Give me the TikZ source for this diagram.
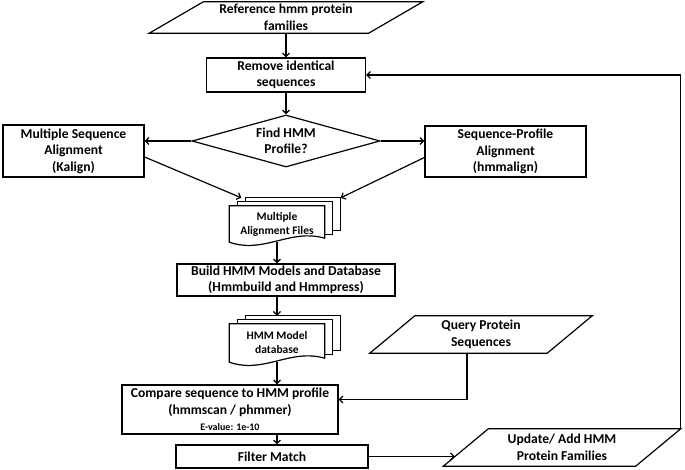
\documentclass[tikz,border=0pt]{standalone}
\usepackage{fontspec}
\setmainfont{Carlito}
\usetikzlibrary{shapes.geometric,arrows.meta,backgrounds}
\begin{document}
\begin{tikzpicture}[x=1pt,y=-1pt,
        >={Straight Barb[length=3.5pt,width=7pt]},
        every node/.style={font=\bfseries\fontsize{13.6}{16.5}\selectfont,align=center,inner sep=0pt},
        line/.style={line width=1.2pt},
        conn/.style={line,->},
        procbox/.style={draw,rectangle,line},
        iobox/.style={rectangle},
        docbox/.style={rectangle,minimum width=95pt,font=\bfseries\fontsize{11.5}{14}\selectfont},
        decision/.style={draw,diamond,aspect=3.6,line}]
        \useasboundingbox (0,0) rectangle (685,470);

        \node[iobox,minimum width=219pt,minimum height=31pt] (ref) at (286,17.5) {Reference hmm protein\\families};
        \node[procbox,minimum width=159pt,minimum height=34pt] (remove) at (286,75) {Remove identical\\sequences};
        \node[decision,minimum width=188pt,minimum height=52pt] (dia) at (286,141) {Find HMM\\Profile?};
        \node[procbox,minimum width=141pt,minimum height=52pt] (msa) at (73.5,151) {Multiple Sequence\\Alignment\\(Kalign)};
        \node[procbox,minimum width=161pt,minimum height=51pt] (spa) at (505.5,151.5) {Sequence-Profile\\Alignment\\(hmmalign)};
        \node[docbox,minimum height=36pt] (maf) at (277,224) {Multiple\\Alignment Files};
        \node[procbox,minimum width=218pt,minimum height=32pt] (build) at (286,280) {Build HMM Models and Database\\(Hmmbuild and Hmmpress)};
        \node[docbox,minimum height=38pt] (hdb) at (277,343) {HMM Model\\database};
        \node[iobox,minimum width=177pt,minimum height=37pt] (query) at (481,334.5) {Query Protein\\Sequences};
        \node[procbox,minimum width=216pt,minimum height=49pt] (compare) at (230,409.5) {Compare sequence to HMM profile\\(hmmscan / phmmer)\\{\fontsize{10}{12}\selectfont E-value: 1e-10}};
        \node[procbox,minimum width=192pt,minimum height=23pt] (filter) at (272,456.5) {Filter Match};
        \node[iobox,minimum width=192pt,minimum height=37pt] (upd) at (562,447.5) {Update/ Add HMM\\Protein Families};

        \foreach \n/\s in {ref/27,query/22.5,upd/22.5}
            \draw[line] ([shift={(\s,0)}]\n.north west) -- ([shift={(\s,0)}]\n.north east) -- ([shift={(-\s,0)}]\n.south east) -- ([shift={(-\s,0)}]\n.south west) -- cycle;

        \begin{pgfonlayer}{background}
            \foreach \n in {maf,hdb} {
                \foreach \d in {16,8}
                    \draw[line,fill=white] ([shift={(\d,-\d/2)}]\n.north west) rectangle ([shift={(\d,-4-\d/2)}]\n.south east);
                \draw[line,fill=white] (\n.south west) -- (\n.north west) -- (\n.north east) -- ([shift={(0,-4)}]\n.south east)
                    .. controls +(-35,-10) and +(35,12) .. (\n.south west) -- cycle;
            }
        \end{pgfonlayer}

        \draw[conn] (ref.south) -- (remove.north);
        \draw[conn] (remove.south) -- (dia.north);
        \draw[conn] (dia.west) -- (dia.west -| msa.east);
        \draw[conn] (dia.east) -- (dia.east -| spa.west);
        \draw[conn] ([yshift=-6pt]msa.east) -- ([shift={(12,-8)}]maf.north west);
        \draw[conn] ([yshift=-6pt]spa.west) -- ([shift={(16,-8)}]maf.north east);
        \draw[conn] (maf.south) -- (maf.south |- build.north);
        \draw[conn] (hdb.north |- build.south) -- ([shift={(0,-8)}]hdb.north);
        \draw[conn] (hdb.south) -- (hdb.south |- compare.north);
        \draw[conn] ([xshift=-14pt]query.south) |- ([yshift=10pt]compare.east);
        \draw[conn] (hdb.south |- compare.south) -- (hdb.south |- filter.north);
        \draw[conn] (filter.east) -- ([xshift=-11pt]filter.east -| upd.west);
        \draw[conn] ([shift={(22.5,0)}]upd.north east) |- (remove.east);
\end{tikzpicture}
\end{document}
